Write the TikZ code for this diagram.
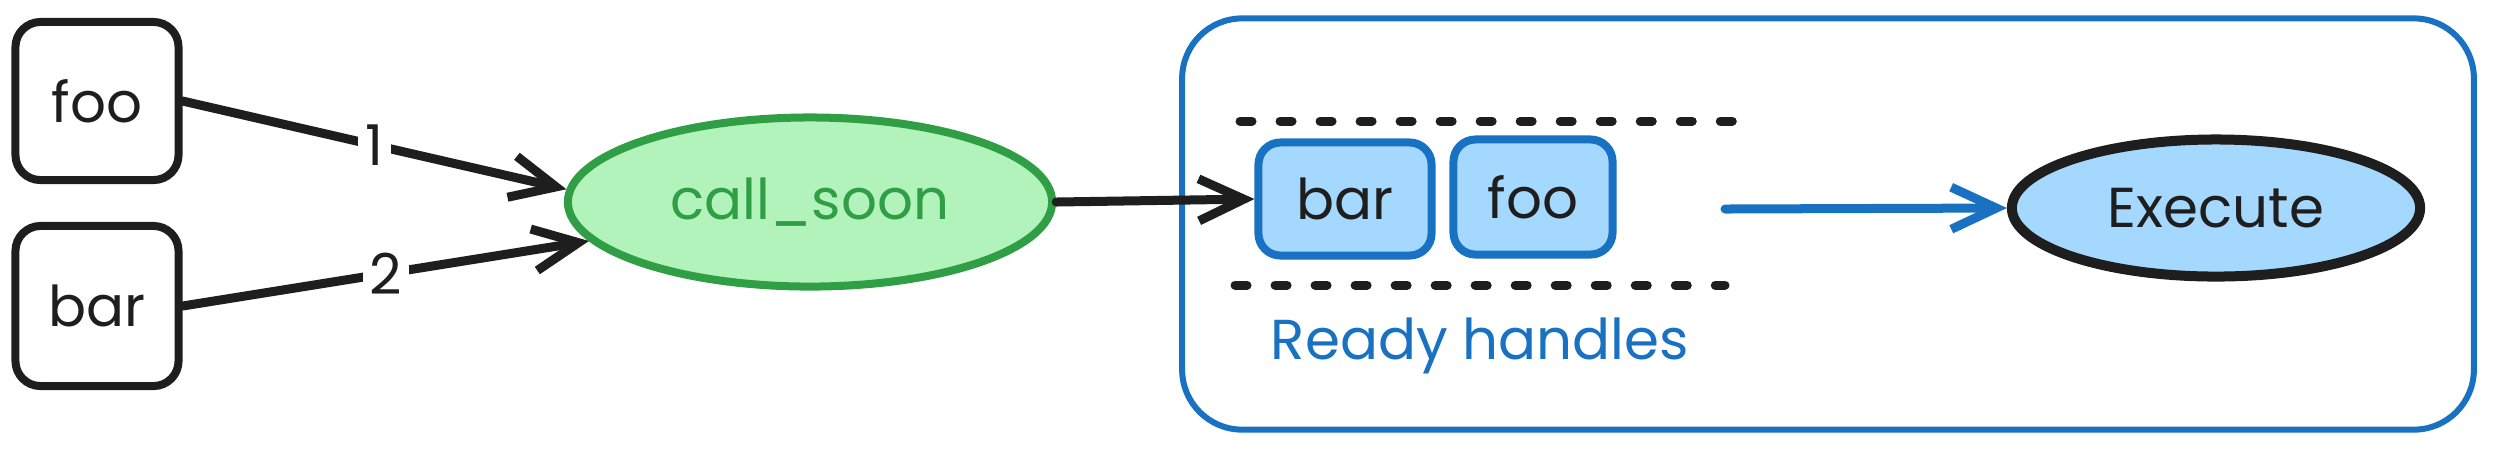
\documentclass[tikz,border=0pt]{standalone}
\usepackage{fontspec}
\setmainfont{Poppins}
\usetikzlibrary{arrows.meta,shapes.geometric}
\definecolor{inkblack}{HTML}{1E1E1E}
\definecolor{leafgreen}{HTML}{2F9E44}
\definecolor{mintfill}{HTML}{B2F2BB}
\definecolor{oceanblue}{HTML}{1971C2}
\definecolor{skyfill}{HTML}{A5D8FF}
\tikzset{
  task/.style={draw=inkblack, line width=0.08cm, rounded corners=0.25cm,
    minimum width=1.63cm, minimum height=1.58cm, text=inkblack},
  handle/.style={draw=oceanblue, fill=skyfill, line width=0.08cm,
    rounded corners=0.22cm, minimum height=1.13cm, text=inkblack},
  flow/.style={line width=0.09cm, line cap=round, line join=round,
    -{Straight Barb[length=0.45cm,width=0.42cm]}},
  order/.style={fill=white, inner sep=2pt, text=inkblack},
  queueline/.style={inkblack, line width=0.09cm, line cap=round,
    dash pattern=on 0.12cm off 0.28cm}
}
\begin{document}
\begin{tikzpicture}[x=0.01cm, y=-0.01cm, font=\fontsize{16}{19}\selectfont]
\useasboundingbox (0,0) rectangle (2500,450);
% tasks handed to the loop
\node[task] (foo) at (97,101) {foo};
\node[task, minimum height=1.6cm] (bar) at (97,306) {bar};
\node[ellipse, draw=leafgreen, fill=mintfill, line width=0.08cm, text=leafgreen,
  minimum width=4.84cm, minimum height=1.69cm] (callsoon) at (810,202) {call\_soon};
\draw[flow, inkblack] (foo.east) -- node[order] {1} (callsoon.177);
\draw[flow, inkblack] (bar.east) -- node[order] {2} (callsoon.190);
% event loop
\node[draw=oceanblue, line width=0.06cm, rounded corners=0.6cm,
  minimum width=12.91cm, minimum height=4.11cm] (loop) at (1828,224) {};
\draw[queueline] (1240,121) -- (1734,121);
\draw[queueline] (1235,285) -- (1725,285);
\node[handle, minimum width=1.73cm] (qbar) at (1345,199) {bar};
\node[handle, minimum width=1.59cm, minimum height=1.15cm] (qfoo) at (1533,197) {foo};
\node[text=oceanblue] (ready) at (1480,346) {Ready handles};
\node[ellipse, draw=inkblack, fill=skyfill, line width=0.1cm, text=inkblack,
  minimum width=4.08cm, minimum height=1.37cm] (exec) at (2216,208) {Execute};
\coordinate (qend) at (1725,209);
\draw[flow, inkblack] (callsoon.east) -- (qbar.west);
\draw[flow, oceanblue] (qend) -- (exec.west);
\end{tikzpicture}
\end{document}
